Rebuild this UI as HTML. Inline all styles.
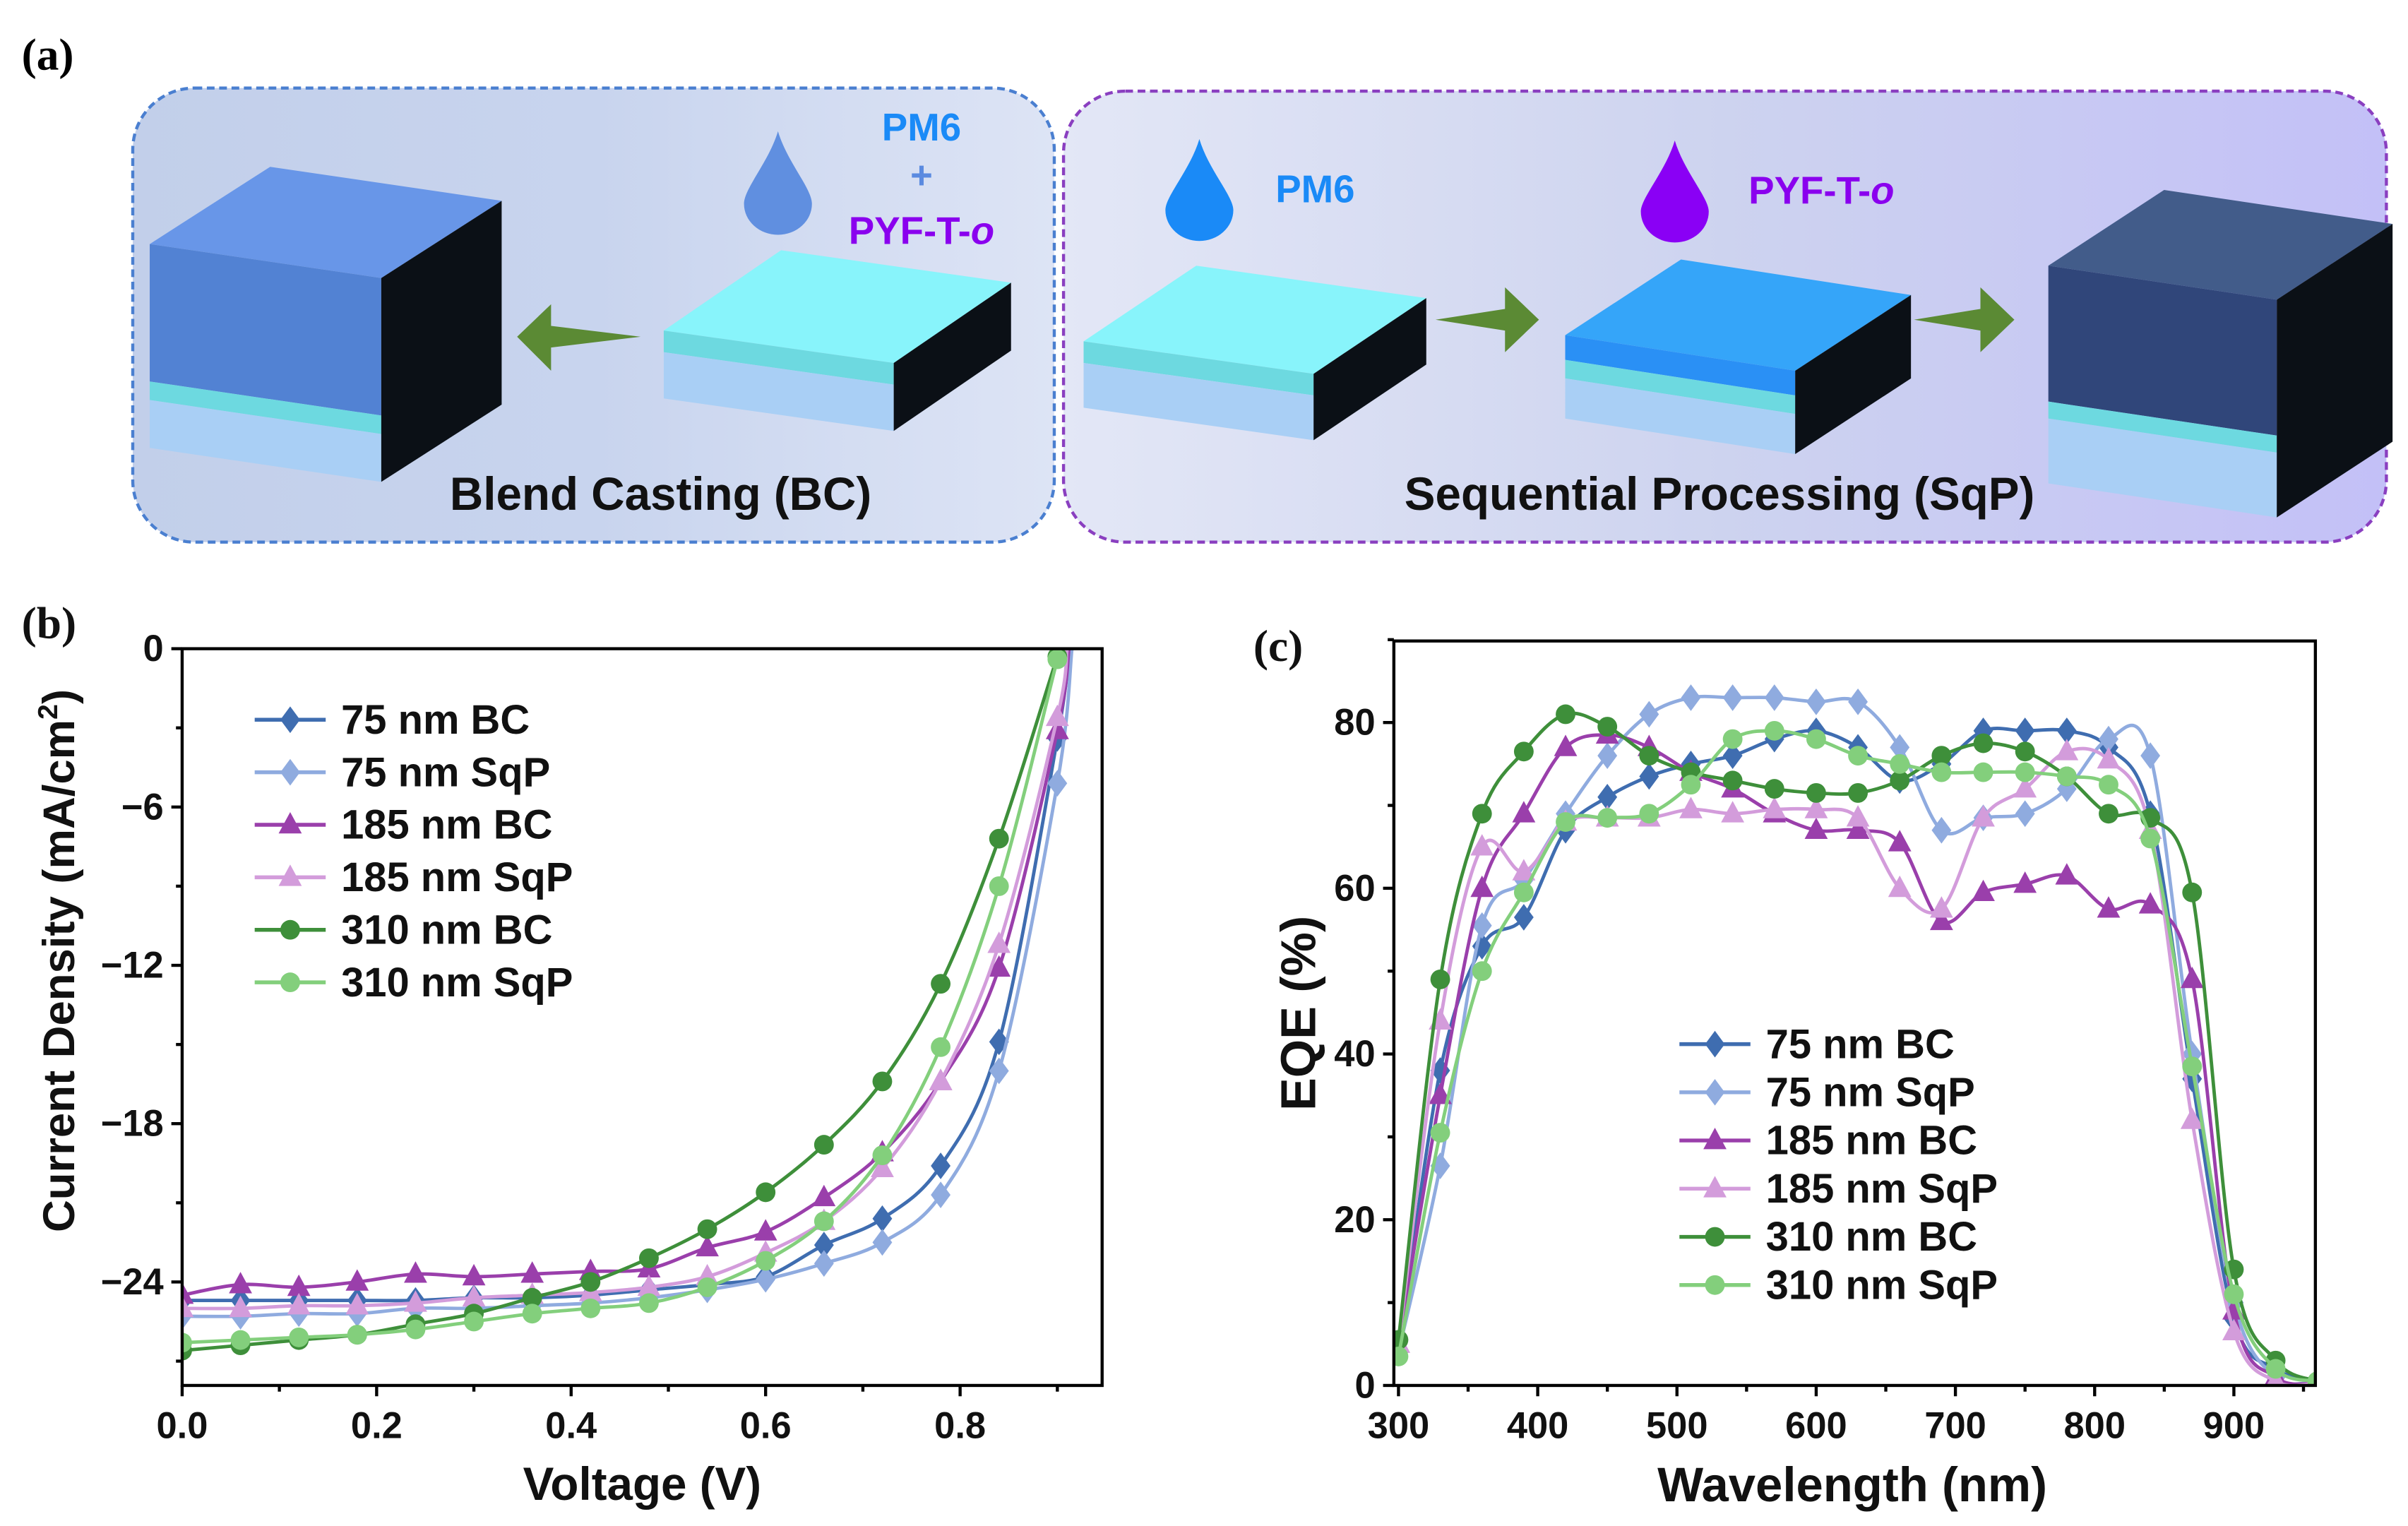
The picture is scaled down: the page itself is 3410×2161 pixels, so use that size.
<!DOCTYPE html>
<html><head><meta charset="utf-8"><style>
html,body{margin:0;padding:0;background:#fff;}
svg{display:block;}
text{font-family:"Liberation Sans",Arial,sans-serif;}
</style></head><body>
<svg id="fig" width="3410" height="2161" viewBox="0 0 1560 988" preserveAspectRatio="none" xmlns="http://www.w3.org/2000/svg">
<defs>
<linearGradient id="gL" x1="0" x2="1" y1="0" y2="0"><stop offset="0" stop-color="#c2cfea"/><stop offset="0.5" stop-color="#c8d4ee"/><stop offset="1" stop-color="#dde4f5"/></linearGradient>
<linearGradient id="gR" x1="0" x2="1" y1="0" y2="0"><stop offset="0" stop-color="#e3e7f6"/><stop offset="0.5" stop-color="#cdd3ef"/><stop offset="1" stop-color="#c3c0f7"/></linearGradient>
</defs>
<g id="panel-a">
<text x="14" y="45" font-weight="bold" font-size="29" style="font-family:'Liberation Serif',serif">(a)</text>
<rect x="86" y="57" width="597" height="294" rx="40" fill="url(#gL)" stroke="#4a7fd0" stroke-width="2" stroke-dasharray="5,3"/>
<rect x="689" y="59" width="857" height="292" rx="40" fill="url(#gR)" stroke="#8a3fc0" stroke-width="2" stroke-dasharray="5,3"/>
<g id="cubes"></g>
<path d="M335,218 L357,197 L357,211 L415,218 L357,225 L357,240 Z" fill="#5b8a34"/>
<path d="M997,207 L975,186 L975,200 L930,207 L975,214 L975,228 Z" fill="#5b8a34"/>
<path d="M1305,207 L1283,186 L1283,200 L1240,207 L1283,214 L1283,228 Z" fill="#5b8a34"/>
<path d="M504,85 C510,105 526,122 526,132 A22,20 0 0 1 482,132 C482,122 498,105 504,85 Z" fill="#608fe0"/>
<path d="M777,90 C783,110 799,127 799,136 A22,20 0 0 1 755,136 C755,127 771,110 777,90 Z" fill="#1a8af7"/>
<path d="M1085,91 C1091,111 1107,128 1107,137 A22,20 0 0 1 1063,137 C1063,128 1079,111 1085,91 Z" fill="#8a00f5"/>
<text x="597" y="91" text-anchor="middle" font-weight="bold" font-size="25" fill="#1a8af7">PM6</text>
<text x="597" y="122" text-anchor="middle" font-weight="bold" font-size="25" fill="#5a8ae0">+</text>
<text x="597" y="158" text-anchor="middle" font-weight="bold" font-size="25" fill="#8a00ee">PYF-T-<tspan font-style="italic">o</tspan></text>
<text x="852" y="131" text-anchor="middle" font-weight="bold" font-size="25" fill="#1a8af7">PM6</text>
<text x="1180" y="132" text-anchor="middle" font-weight="bold" font-size="25" fill="#8a00ee">PYF-T-<tspan font-style="italic">o</tspan></text>
<text x="428" y="330" text-anchor="middle" font-weight="bold" font-size="30" fill="#111">Blend Casting (BC)</text>
<text x="1114" y="330" text-anchor="middle" font-weight="bold" font-size="30" fill="#111">Sequential Processing (SqP)</text>
</g>
<g id="panel-b"></g>
<g id="panel-c"></g>
</svg>
<script>
// ---------- JV data (panel b) ----------
const jvVoltage = [0,0.06,0.12,0.18,0.24,0.30,0.36,0.42,0.48,0.54,0.60,0.66,0.72,0.78,0.84,0.90];
const jv75BC   = [-24.7,-24.7,-24.7,-24.7,-24.7,-24.6,-24.6,-24.5,-24.3,-24.1,-23.8,-22.6,-21.6,-19.6,-14.9,-3.4];
const jv75SqP  = [-25.3,-25.3,-25.2,-25.2,-25.0,-25.0,-24.9,-24.8,-24.6,-24.3,-23.9,-23.3,-22.5,-20.7,-16.0,-5.1];
const jv185BC  = [-24.5,-24.1,-24.2,-24.0,-23.7,-23.8,-23.7,-23.6,-23.5,-22.7,-22.1,-20.8,-19.1,-16.4,-12.1,-3.1];
const jv185SqP = [-25.0,-25.0,-24.9,-24.9,-24.8,-24.6,-24.5,-24.4,-24.2,-23.8,-22.9,-21.7,-19.7,-16.4,-11.2,-2.6];
const jv310BC  = [-26.6,-26.4,-26.2,-26.0,-25.6,-25.2,-24.6,-24.0,-23.1,-22.0,-20.6,-18.8,-16.4,-12.7,-7.2,-0.3];
const jv310SqP = [-26.3,-26.2,-26.1,-26.0,-25.8,-25.5,-25.2,-25.0,-24.8,-24.2,-23.2,-21.7,-19.2,-15.1,-9.0,-0.4];
const jvVoc = [0.912,0.915,0.912,0.91,0.905,0.903];
const jvXTicks = [0,0.2,0.4,0.6,0.8];
const jvXTickLabels = ["0.0","0.2","0.4","0.6","0.8"];
const jvYTicks = [0,-6,-12,-18,-24];
const jvYTickLabels = ["0","\u22126","\u221212","\u221218","\u221224"];
// ---------- EQE data (panel c) ----------
const eqeWavelength = [300,330,360,390,420,450,480,510,540,570,600,630,660,690,720,750,780,810,840,870,900,930,960];
const eqe75BC   = [4,38,53,56.5,67,71,73.5,75,76,78,79,77,73,75,79,79,79,77,69,37,8,2,0.5];
const eqe75SqP  = [4,26.5,55.5,61,69,76,81,83,83,83,82.5,82.5,77,67,68.5,69,72,78,76,40,10,1,0.5];
const eqe185BC  = [5,35,60,69,77,78.5,77,74,72,69,67,67,65.5,56,59.5,60.5,61.5,57.5,58,49,9,1,0.3];
const eqe185SqP = [5,44,65,62,68,68.5,68.5,69.5,69,69.5,69.5,68.5,60,57.5,68.5,72,76.5,75.5,67,32,6.5,0.5,0.3];
const eqe310BC  = [5.5,49,69,76.5,81,79.5,76,74,73,72,71.5,71.5,73,76,77.5,76.5,73.5,69,68.5,59.5,14,3,0.5];
const eqe310SqP = [3.5,30.5,50,59.5,68,68.5,69,72.5,78,79,78,76,75,74,74,74,73.5,72.5,66,38.5,11,2,0.5];
const eqeXTicks = [300,400,500,600,700,800,900];
const eqeYTicks = [0,20,40,60,80];
const seriesNames = ["75 nm BC","75 nm SqP","185 nm BC","185 nm SqP","310 nm BC","310 nm SqP"];

const colors = ["#3f6db0","#8fabdf","#9a3fab","#d39cdb","#3e8f3a","#83cf7c"];
const shapes = ["diamond","diamond","triangle","triangle","circle","circle"];
const NS = "http://www.w3.org/2000/svg";
function mk(tag, attrs, parent){const e=document.createElementNS(NS,tag);for(const k in attrs)e.setAttribute(k,attrs[k]);parent.appendChild(e);return e;}

// cubes
(function(){
  const g=document.getElementById('cubes');
  const cubes=[
    {x:97,y:158,w:150,s:22,dx:78,dy:-50,top:"#6896e8",layers:[[89,"#5282d3"],[12,"#6dd9e0"],[31,"#a9cff5"]],n:"bc-film-stack"},
    {x:430,y:214,w:149,s:21,dx:76,dy:-52,top:"#88f4fb",layers:[[14,"#6dd9e0"],[30,"#a9cff5"]],n:"bc-substrate"},
    {x:702,y:221,w:149,s:21,dx:73,dy:-49,top:"#88f4fb",layers:[[14,"#6dd9e0"],[29,"#a9cff5"]],n:"sqp-substrate"},
    {x:1014,y:217,w:149,s:23,dx:75,dy:-49,top:"#35a5f9",layers:[[16,"#2a90f5"],[12,"#6dd9e0"],[26,"#a9cff5"]],n:"sqp-pm6-layer"},
    {x:1327,y:172,w:148,s:22,dx:75,dy:-49,top:"#425c8a",layers:[[88,"#30467a"],[11,"#6dd9e0"],[42,"#a9cff5"]],n:"sqp-film-stack"}
  ];
  cubes.forEach(c=>{
    const cg=mk('g',{},g);
    
    
    const h=c.layers.reduce((a,l)=>a+l[0],0);
    mk('polygon',{points:`${c.x},${c.y} ${c.x+c.dx},${c.y+c.dy} ${c.x+c.w+c.dx},${c.y+c.s+c.dy} ${c.x+c.w},${c.y+c.s}`,fill:c.top},cg);
    let yy=c.y;
    c.layers.forEach(l=>{
      mk('polygon',{points:`${c.x},${yy} ${c.x+c.w},${yy+c.s} ${c.x+c.w},${yy+c.s+l[0]} ${c.x},${yy+l[0]}`,fill:l[1]},cg);
      yy+=l[0];
    });
    mk('polygon',{points:`${c.x+c.w},${c.y+c.s} ${c.x+c.w+c.dx},${c.y+c.s+c.dy} ${c.x+c.w+c.dx},${c.y+c.s+c.dy+h} ${c.x+c.w},${c.y+c.s+h}`,fill:"#0b1016"},cg);
  });
})();

function smoothPath(pts){
  let d=`M${pts[0][0].toFixed(2)},${pts[0][1].toFixed(2)}`;
  for(let i=0;i<pts.length-1;i++){
    const p0=pts[i-1]||pts[i],p1=pts[i],p2=pts[i+1],p3=pts[i+2]||p2;
    const c1=[p1[0]+(p2[0]-p0[0])/6,p1[1]+(p2[1]-p0[1])/6];
    const c2=[p2[0]-(p3[0]-p1[0])/6,p2[1]-(p3[1]-p1[1])/6];
    d+=` C${c1[0].toFixed(2)},${c1[1].toFixed(2)} ${c2[0].toFixed(2)},${c2[1].toFixed(2)} ${p2[0].toFixed(2)},${p2[1].toFixed(2)}`;
  }
  return d;
}
function marker(parent,shape,x,y,col,sz){
  let e;
  if(shape==="diamond") e=mk('polygon',{points:`${x},${y-sz*1.15} ${x+sz*0.85},${y} ${x},${y+sz*1.15} ${x-sz*0.85},${y}`,fill:col},parent);
  else if(shape==="triangle") e=mk('polygon',{points:`${x},${y-sz*1.1} ${x+sz},${y+sz*0.75} ${x-sz},${y+sz*0.75}`,fill:col},parent);
  else e=mk('circle',{cx:x,cy:y,r:sz*0.85,fill:col},parent);
  return e;
}
function axes(g,L,R,T,B,name){
  const f=mk('rect',{x:L,y:T,width:R-L,height:B-T,fill:"none",stroke:"#000","stroke-width":2},g);
  
  
}
function text(g,x,y,s,size,anchor,name,extra){
  const t=mk('text',Object.assign({x:x,y:y,'font-size':size,'font-weight':'bold','text-anchor':anchor,fill:'#111'},extra||{}),g);
  t.textContent=s;
  
  
  return t;
}
function legend(g,x0,y0,dy,fs,prefix){
  seriesNames.forEach((n,i)=>{
    const lg=mk('g',{},g);
    
    
    const y=y0+i*dy;
    mk('line',{x1:x0,x2:x0+46,y1:y,y2:y,stroke:colors[i],'stroke-width':2.5},lg);
    marker(lg,shapes[i],x0+23,y,colors[i],7.5);
    text(lg,x0+56,y+9,n,fs,'start',prefix+'-legend-label-'+(i+1));
  });
}

// ---------- Panel b ----------
(function(){
  const g=document.getElementById('panel-b');
  const L=118,R=714,T=420,B=897;
  const xs=v=>L+(v-0)/0.2*126;
  const ys=v=>T+(0-v)/6*102.5;
  text(g,14,413,"(b)",29,'start','panel-b-label',{style:"font-family:'Liberation Serif',serif"});
  const series=[jv75BC,jv75SqP,jv185BC,jv185SqP,jv310BC,jv310SqP];
  const clip=mk('clipPath',{id:'clipB'},g); mk('rect',{x:L,y:T,width:R-L,height:B-T},clip);
  series.forEach((s,i)=>{
    const sg=mk('g',{'clip-path':'url(#clipB)'},g);
    
    
    const pts=jvVoltage.map((v,k)=>[xs(v),ys(s[k])]);
    pts.push([xs(jvVoc[i]),ys(0)]);
    const p=mk('path',{d:smoothPath(pts),fill:'none',stroke:colors[i],'stroke-width':2.2},sg);
    
    jvVoltage.forEach((v,k)=>{
      const m=marker(sg,shapes[i],xs(v),ys(s[k]),colors[i],7.5);
      
    });
  });
  axes(g,L,R,T,B,'jv');
  for(let v=0;v<=0.9001;v+=0.1){
    const maj=Math.abs(v*5-Math.round(v*5))<1e-6;
    mk('line',{x1:xs(v),x2:xs(v),y1:B,y2:B+(maj?7:4),stroke:'#000','stroke-width':2},g);
  }
  for(let v=0;v>=-27;v-=3){
    const maj=v%6===0;
    mk('line',{x1:L,x2:L-(maj?7:4),y1:ys(v),y2:ys(v),stroke:'#000','stroke-width':2},g);
  }
  jvXTicks.forEach((v,i)=>text(g,xs(v),B+34,jvXTickLabels[i],24,'middle','jv-x-tick-label'));
  jvYTicks.forEach((v,i)=>text(g,L-12,ys(v)+8,jvYTickLabels[i],24,'end','jv-y-tick-label'));
  text(g,416,971,"Voltage (V)",30,'middle','jv-x-axis-title');
  const yt=text(g,0,0,"",29,'middle','jv-y-axis-title',{transform:`translate(48,622) rotate(-90)`});
  yt.textContent="Current Density (mA/cm";
  const sup=mk('tspan',{'font-size':18,dy:-11},yt); sup.textContent="2";
  const cl=mk('tspan',{dy:11},yt); cl.textContent=")";
  legend(g,165,466,34,26.5,'jv');
})();

// ---------- Panel c ----------
(function(){
  const g=document.getElementById('panel-c');
  const L=903,R=1500,T=415,B=897;
  const xs=v=>906+(v-300)/100*90.2;
  const ys=v=>B-v/20*107.3;
  text(g,812,428,"(c)",29,'start','panel-c-label',{style:"font-family:'Liberation Serif',serif"});
  const series=[eqe75BC,eqe75SqP,eqe185BC,eqe185SqP,eqe310BC,eqe310SqP];
  const clip=mk('clipPath',{id:'clipC'},g); mk('rect',{x:L,y:T,width:R-L,height:B-T},clip);
  series.forEach((s,i)=>{
    const sg=mk('g',{'clip-path':'url(#clipC)'},g);
    
    
    const pts=eqeWavelength.map((v,k)=>[xs(v),ys(s[k])]);
    const p=mk('path',{d:smoothPath(pts),fill:'none',stroke:colors[i],'stroke-width':2.2},sg);
    
    eqeWavelength.forEach((v,k)=>{
      const m=marker(sg,shapes[i],xs(v),ys(s[k]),colors[i],7.5);
      
    });
  });
  axes(g,L,R,T,B,'eqe');
  for(let v=300;v<=950;v+=50){
    const maj=v%100===0;
    mk('line',{x1:xs(v),x2:xs(v),y1:B,y2:B+(maj?7:4),stroke:'#000','stroke-width':2},g);
  }
  for(let v=0;v<=90;v+=10){
    const maj=v%20===0;
    mk('line',{x1:L,x2:L-(maj?7:4),y1:ys(v),y2:ys(v),stroke:'#000','stroke-width':2},g);
  }
  eqeXTicks.forEach(v=>text(g,xs(v),B+34,String(v),24,'middle','eqe-x-tick-label'));
  eqeYTicks.forEach(v=>text(g,L-12,ys(v)+8,String(v),24,'end','eqe-y-tick-label'));
  text(g,1200,972,"Wavelength (nm)",31.5,'middle','eqe-x-axis-title');
  text(g,0,0,"EQE (%)",32,'middle','eqe-y-axis-title',{transform:`translate(852,656) rotate(-90)`});
  legend(g,1088,676,31.2,26.5,'eqe');
})();
</script>
</body></html>
